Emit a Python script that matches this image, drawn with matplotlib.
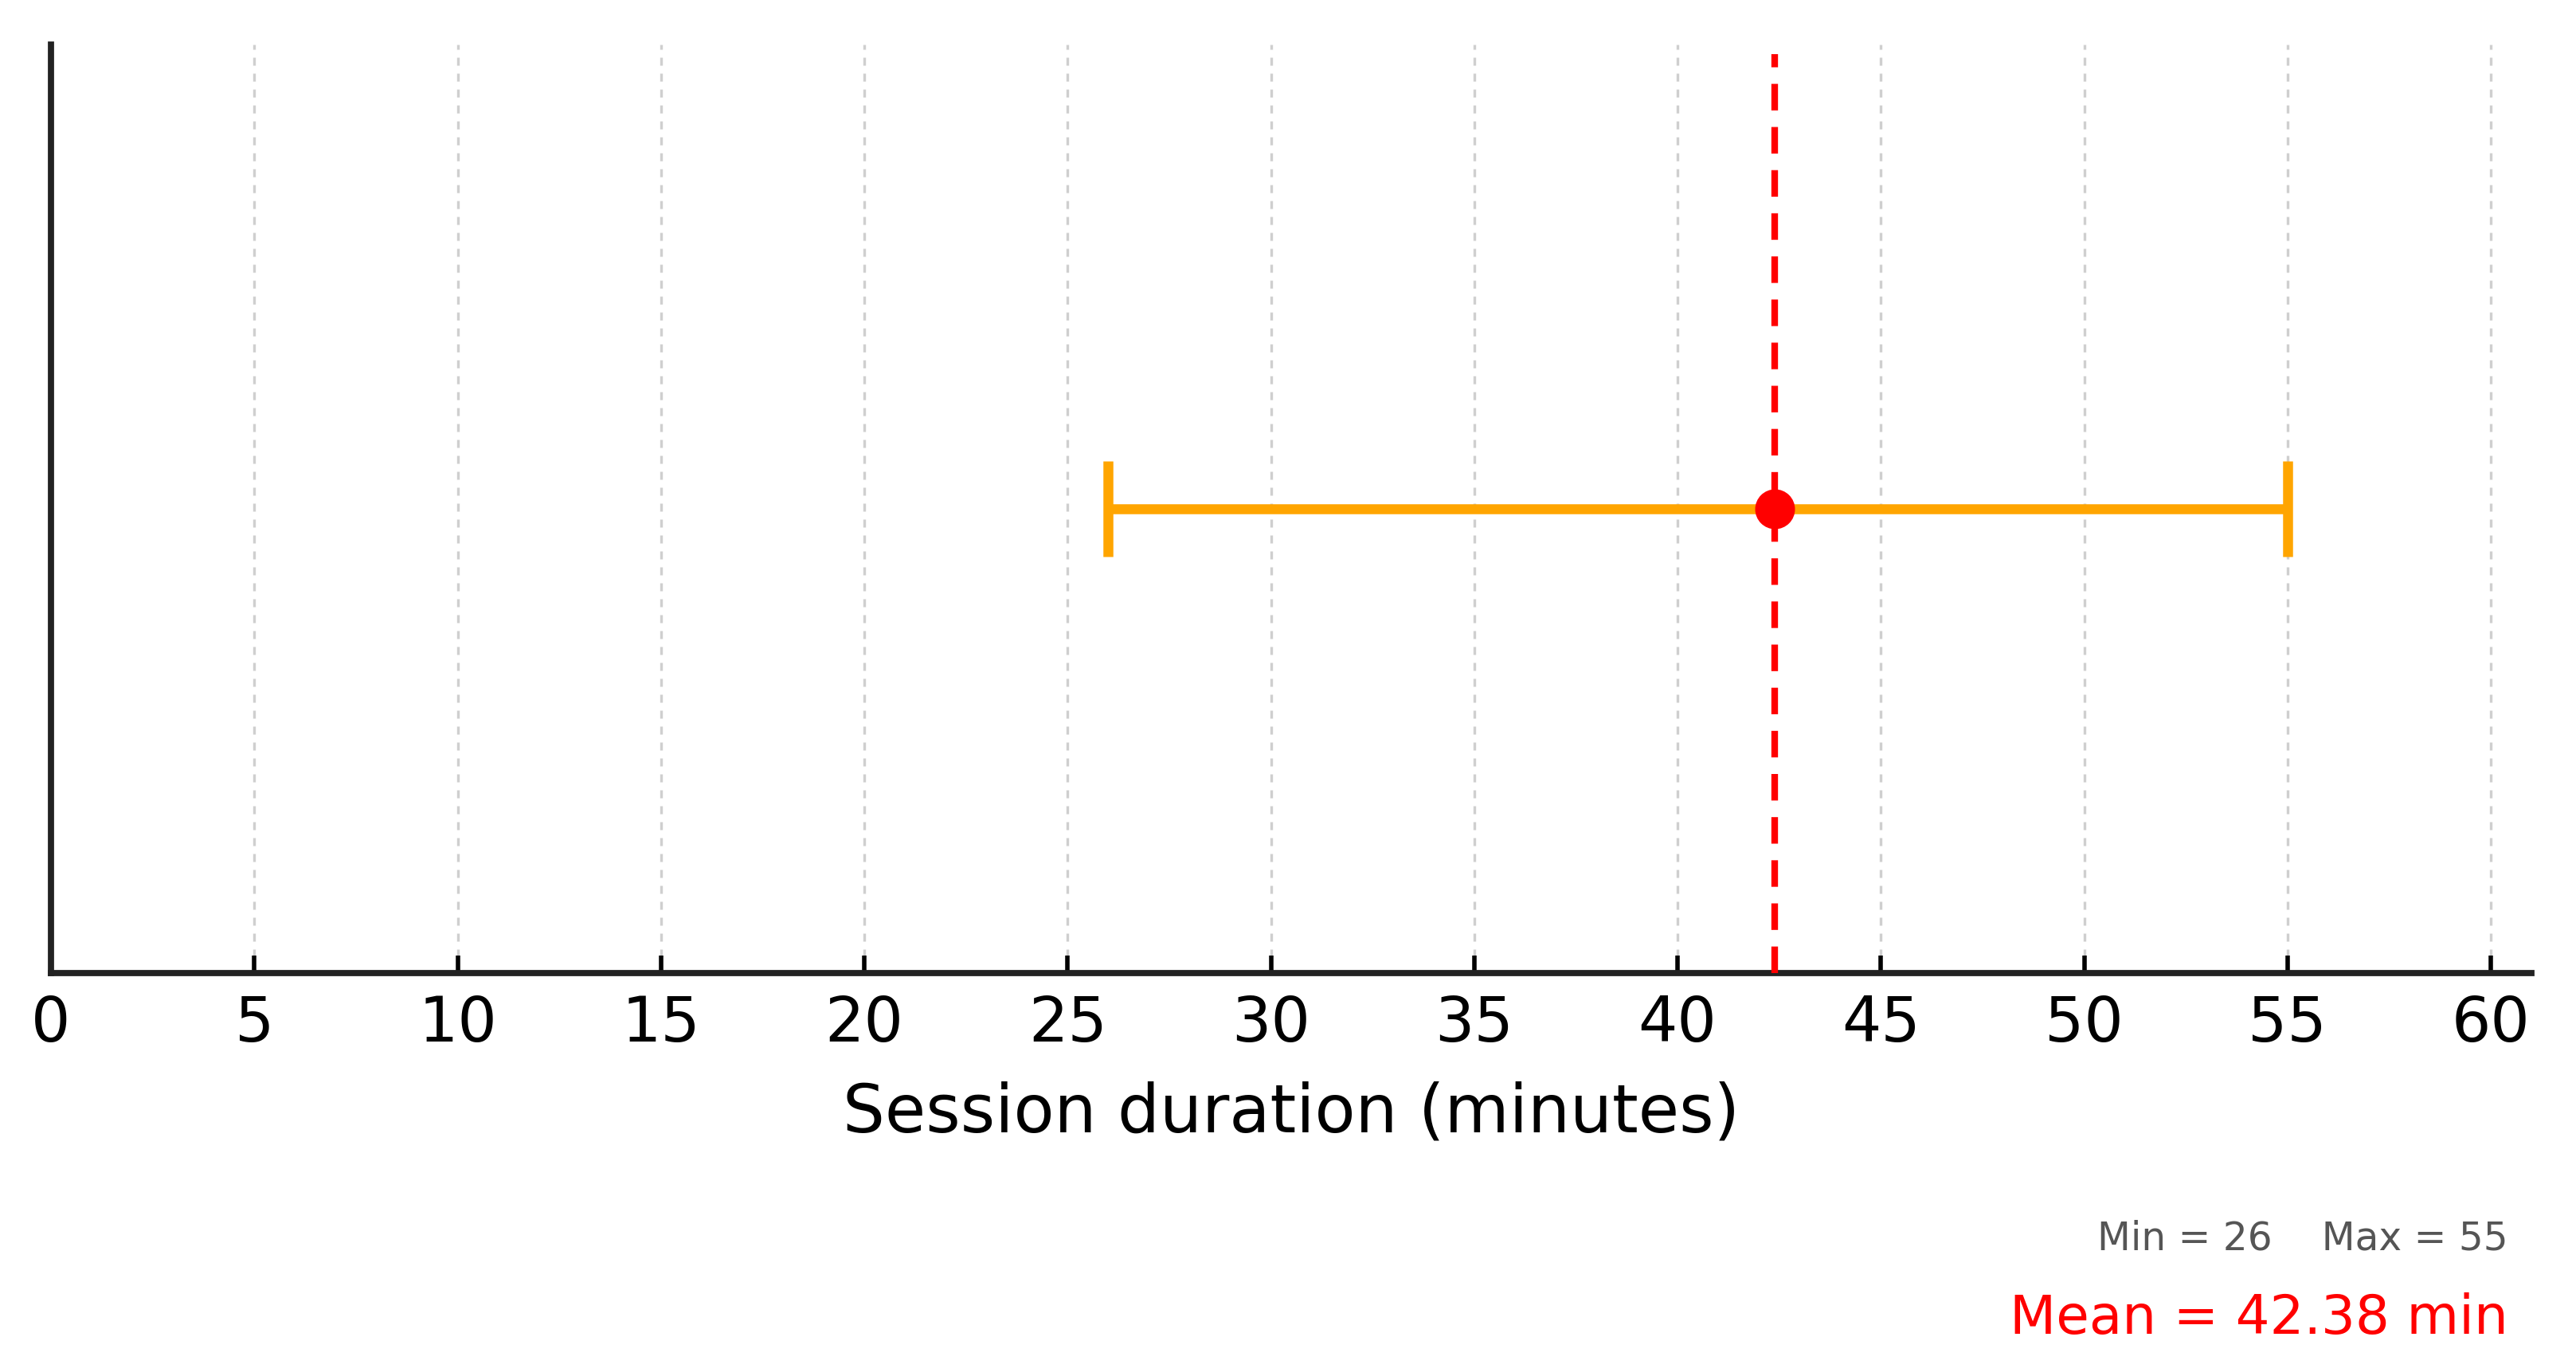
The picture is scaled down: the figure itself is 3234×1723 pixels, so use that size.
import matplotlib
matplotlib.use("Agg")
import matplotlib.pyplot as plt
import numpy as np

# session duration summary
min_val = 26
max_val = 55
mean_val = 42.38
x_ticks = [0, 5, 10, 15, 20, 25, 30, 35, 40, 45, 50, 55, 60]

plt.rcParams['font.family'] = ['DejaVu Sans']

fig = plt.figure(figsize=(16.17, 8.62), dpi=200)
ax = fig.add_axes([0.0198, 0.2906, 0.9629, 0.6764])

# grid lines
for t in x_ticks[1:]:
    ax.axvline(t, color='#cfcfcf', lw=1.2, ls=(0, (3, 3)), zorder=0)

# range bar with mean marker
ax.errorbar(mean_val, 0.5, xerr=[[mean_val - min_val], [max_val - mean_val]],
            fmt='none', ecolor='#FFA500', elinewidth=4.5, capsize=21.5, capthick=4.5, zorder=2)
ax.plot(mean_val, 0.5, 'o', color='red', markersize=17, zorder=3)
ax.axvline(mean_val, color='red', lw=3, ls=(0, (4, 2.5)), ymax=0.99, zorder=4)

ax.set_xlim(0, 61)
ax.set_ylim(0, 1)
ax.set_xticks(x_ticks)
ax.set_yticks([])
ax.tick_params(axis='x', direction='in', length=8, width=2, labelsize=28, pad=9)
for s in ['top', 'right']:
    ax.spines[s].set_visible(False)
for s in ['left', 'bottom']:
    ax.spines[s].set_linewidth(2.8)
    ax.spines[s].set_color('#222222')
ax.set_xlabel('Session duration (minutes)', fontsize=30, labelpad=12)

fig.text(0.9737, 0.098, 'Min = %d    Max = %d' % (min_val, max_val),
         ha='right', va='center', fontsize=17.5, color='#555555')
fig.text(0.9737, 0.0396, 'Mean = %.2f min' % mean_val,
         ha='right', va='center', fontsize=24.3, color='red')

fig.savefig('out.png', dpi=200)
